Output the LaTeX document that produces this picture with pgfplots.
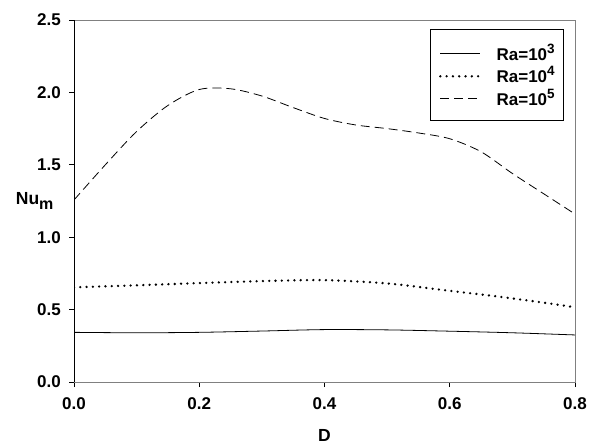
\documentclass[border=0pt]{standalone}
\usepackage{pgfplots}
\pgfplotsset{compat=1.18}
\usepackage{fontspec}
\setmainfont{Liberation Sans}
\definecolor{spinegray}{gray}{0.5}
\newcommand{\sep}[1]{\raisebox{0.42em}{\fontsize{13.5}{14}\selectfont #1}}

\begin{document}
\begin{tikzpicture}
\begin{axis}[
    width=501pt, height=362pt, scale only axis,
    xmin=0, xmax=0.8, ymin=0, ymax=2.5,
    xtick={0,0.2,0.4,0.6,0.8},
    ytick={0,0.5,1.0,1.5,2.0,2.5},
    /pgf/number format/.cd, fixed, fixed zerofill, precision=1, assume math mode=true, /pgfplots/.cd,
    ticklabel style={font=\bfseries\fontsize{17}{19}\selectfont, inner sep=0pt},
    yticklabel style={xshift=-8pt},
    xticklabel style={yshift=-10pt},
    tick align=outside, major tick length=5pt,
    xtick pos=bottom, ytick pos=left,
    tick style={black, line width=0.8pt},
    axis line style={spinegray, line width=0.9pt},
    every axis y label/.style={at={(rel axis cs:0,0.5)}, anchor=east, xshift=-17pt},
    every axis x label/.style={at={(rel axis cs:0.5,0)}, anchor=base, yshift=-59pt},
    label style={font=\bfseries\fontsize{17.5}{20}\selectfont},
    xlabel={D},
    ylabel={Nu\raisebox{-0.3em}{\fontsize{16}{16}\selectfont m}},
    legend style={at={(1,1)}, anchor=north east, xshift=-11pt, yshift=-9pt,
        draw=black, line width=0.6pt, inner xsep=9pt, inner ysep=14pt,
        font=\bfseries\fontsize{17}{19}\selectfont,
        nodes={inner sep=0pt, text height=17pt, text depth=0.5pt, anchor=base},
        row sep=5pt,
        /tikz/every odd column/.append style={column sep=15pt}},
    legend cell align=left,
    legend image code/.code={
        \path[draw=none, fill=none] (0pt,-0.5pt) rectangle (40pt,17pt);
        \draw[#1] (0pt,6.5pt) -- (40pt,6.5pt);},
]
\addplot[black, line width=0.8pt, smooth] coordinates {
    (0,0.343) (0.1,0.340) (0.2,0.343) (0.3,0.352) (0.4,0.362)
    (0.5,0.360) (0.6,0.351) (0.7,0.340) (0.8,0.325)};
\addplot[black, line width=2.6pt, line cap=round, dash pattern=on 0pt off 6.3pt, smooth] coordinates {
    (0,0.654) (0.1,0.668) (0.2,0.683) (0.3,0.697) (0.39,0.704)
    (0.45,0.695) (0.51,0.677) (0.59,0.635) (0.67,0.594) (0.75,0.548) (0.8,0.516)};
\addplot[black, line width=0.8pt, dash pattern=on 9pt off 5pt, smooth] coordinates {
    (0,1.257) (0.05,1.50) (0.1,1.73) (0.15,1.91) (0.2,2.02) (0.25,2.025)
    (0.3,1.975) (0.35,1.895) (0.4,1.82) (0.45,1.775) (0.5,1.75) (0.55,1.72)
    (0.6,1.68) (0.65,1.59) (0.7,1.44) (0.75,1.30) (0.8,1.16)};
\legend{Ra=10\sep{3}, Ra=10\sep{4}, Ra=10\sep{5}}
\end{axis}
\draw[black, line width=0.9pt] (current axis.south west) -- (current axis.north west);
\pgfresetboundingbox
\useasboundingbox ([xshift=-74pt,yshift=-63pt]current axis.south west) rectangle ([xshift=15pt,yshift=20pt]current axis.north east);
\end{tikzpicture}
\end{document}
